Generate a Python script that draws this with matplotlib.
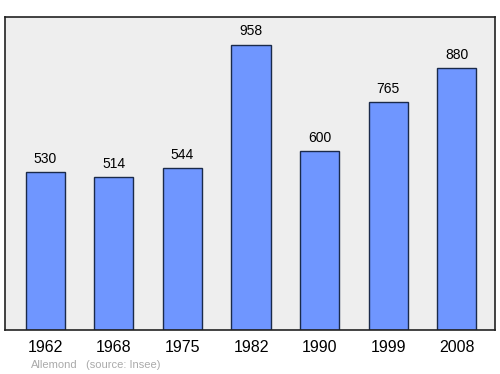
import matplotlib.pyplot as plt

plt.rcParams['font.family'] = ['Liberation Sans', 'DejaVu Sans']

# population data (Insee)
years = ['1962', '1968', '1975', '1982', '1990', '1999', '2008']
population = [530, 514, 544, 958, 600, 765, 880]

fig = plt.figure(figsize=(5, 3.74), dpi=100)
ax = fig.add_axes([5 / 500, 1 - 330 / 374, 490 / 500, 313 / 374])
ax.set_facecolor('#eeeeee')

x = range(len(years))
ax.bar(x, population, width=0.57, color='#6f96ff', edgecolor='#1a2a4a', linewidth=1)

for i, v in zip(x, population):
    ax.text(i, v + 22, str(v), ha='center', va='bottom', fontsize=10)

ax.set_xlim(-0.59, 6.56)
ax.set_ylim(0, 1052)
ax.set_yticks([])
ax.set_xticks(list(x))
ax.set_xticklabels(years, fontsize=11.5)
ax.tick_params(axis='x', length=0, pad=7)
for s in ax.spines.values():
    s.set_color('#222222')
    s.set_linewidth(1.2)

fig.text(31 / 500, 1 - 365 / 374, 'Allemond', color='#aaaaaa', fontsize=8, va='center')
fig.text(86 / 500, 1 - 365 / 374, '(source: Insee)', color='#aaaaaa', fontsize=8, va='center')

fig.savefig('out.png', dpi=100)
